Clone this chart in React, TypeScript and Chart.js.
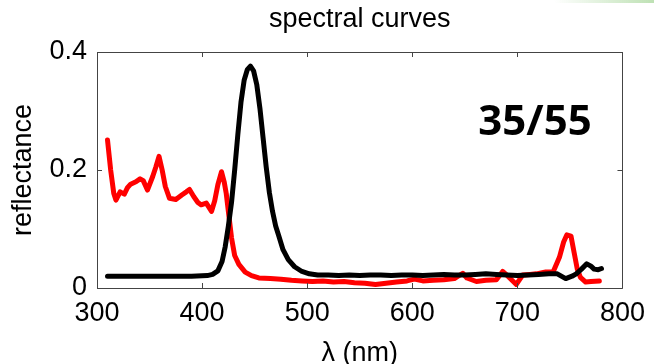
import React, { useEffect, useRef } from "react";
import { Chart, registerables } from "chart.js";

Chart.register(...registerables);

// ---- data ----
const chartTitle = "spectral curves";
const xAxisTitle = "λ (nm)";
const yAxisTitle = "reflectance";
const annotationText = "35/55";

const xTickValues = [300, 400, 500, 600, 700, 800];
const xTickLabels = ["300", "400", "500", "600", "700", "800"];
const yTickValues = [0, 0.2, 0.4];
const yTickLabels = ["0", "0.2", "0.4"];

const blackWavelengths = [
  310, 330, 350, 370, 390, 405, 410, 415, 419, 422, 425, 428, 431, 434, 437, 440, 443, 446, 449, 452,
  455, 458, 461, 464, 467, 470, 473, 477, 482, 488, 495, 502, 510, 520, 530, 540, 550, 560, 570, 580,
  590, 600, 610, 620, 630, 640, 650, 660, 670, 680, 690, 700, 710, 720, 730, 738, 746, 752, 756, 761,
  766, 770, 773, 777, 780,
];
const blackValues = [
  0.02, 0.02, 0.02, 0.02, 0.02, 0.021, 0.023, 0.029, 0.045, 0.07, 0.105, 0.145, 0.2, 0.26, 0.315, 0.352, 0.37, 0.376, 0.368, 0.345,
  0.305, 0.255, 0.205, 0.162, 0.13, 0.105, 0.088, 0.065, 0.048, 0.036, 0.028, 0.024, 0.022, 0.022, 0.021, 0.022, 0.021, 0.022, 0.022, 0.021,
  0.022, 0.022, 0.021, 0.022, 0.023, 0.022, 0.022, 0.023, 0.024, 0.023, 0.022, 0.021, 0.022, 0.023, 0.024, 0.024, 0.016, 0.02, 0.024, 0.032,
  0.041, 0.037, 0.032, 0.031, 0.033,
];

const redWavelengths = [
  310, 313, 316, 318, 322, 326, 329, 332, 337, 341, 344, 348, 353, 356, 359, 362, 365, 369, 375, 381,
  385, 388, 392, 396, 399, 404, 409, 412, 415, 418.5, 421, 423, 426, 428, 431, 435, 441, 447, 454, 465,
  475, 485, 495, 505, 515, 525, 535, 545, 555, 565, 575, 585, 595, 602, 610, 620, 630, 640, 648, 652,
  661, 670, 680, 686, 691, 699, 705, 712, 718, 727, 734, 740, 744, 747, 751, 754, 757, 760, 765, 770,
  778,
];
const redValues = [
  0.251, 0.2, 0.16, 0.149, 0.163, 0.159, 0.17, 0.176, 0.18, 0.185, 0.182, 0.166, 0.189, 0.205, 0.223, 0.2, 0.172, 0.152, 0.15, 0.158,
  0.163, 0.167, 0.155, 0.145, 0.141, 0.144, 0.13, 0.148, 0.175, 0.197, 0.18, 0.16, 0.115, 0.085, 0.055, 0.04, 0.027, 0.021, 0.017, 0.016,
  0.015, 0.013, 0.012, 0.011, 0.012, 0.01, 0.011, 0.009, 0.008, 0.006, 0.008, 0.01, 0.012, 0.015, 0.012, 0.013, 0.014, 0.016, 0.025, 0.017,
  0.011, 0.013, 0.014, 0.028, 0.02, 0.006, 0.022, 0.023, 0.024, 0.027, 0.027, 0.052, 0.078, 0.09, 0.088, 0.06, 0.032, 0.018, 0.01, 0.011,
  0.012,
];

const FONT = "'Liberation Sans', Arial, Helvetica, sans-serif";

const boxPlugin = {
  id: "matlabBox",
  afterDraw(chart: any) {
    const { ctx, chartArea, scales } = chart;
    const { left, right, top, bottom } = chartArea;
    ctx.save();
    ctx.strokeStyle = "#444444";
    ctx.lineWidth = 1;
    ctx.beginPath();
    ctx.rect(Math.round(left) + 0.5, Math.round(top) + 0.5, Math.round(right - left), Math.round(bottom - top));
    ctx.stroke();
    const tl = 5;
    ctx.beginPath();
    xTickValues.forEach((v) => {
      const px = Math.round(scales.x.getPixelForValue(v)) + 0.5;
      ctx.moveTo(px, top);
      ctx.lineTo(px, top + tl);
      ctx.moveTo(px, bottom);
      ctx.lineTo(px, bottom - tl);
    });
    yTickValues.forEach((v) => {
      const py = Math.round(scales.y.getPixelForValue(v)) + 0.5;
      ctx.moveTo(left, py);
      ctx.lineTo(left + tl, py);
      ctx.moveTo(right, py);
      ctx.lineTo(right - tl, py);
    });
    ctx.stroke();

    ctx.fillStyle = "#000";
    ctx.font = "bold 42px 'Open Sans', 'Noto Sans', sans-serif";
    ctx.textAlign = "center";
    ctx.textBaseline = "alphabetic";
    ctx.fillText(annotationText, 535, 135);
    ctx.restore();
  },
};

export default function App() {
  const ref = useRef<HTMLCanvasElement>(null);
  useEffect(() => {
    if (!ref.current) return;
    const chart = new Chart(ref.current, {
      type: "line",
      data: {
        datasets: [
          {
            label: "black",
            data: blackWavelengths.map((x, i) => ({ x, y: blackValues[i] })),
            borderColor: "#000000",
            borderWidth: 5,
            pointRadius: 0,
            tension: 0,
            fill: false,
            borderJoinStyle: "round",
            borderCapStyle: "round",
          },
          {
            label: "red",
            data: redWavelengths.map((x, i) => ({ x, y: redValues[i] })),
            borderColor: "#ff0000",
            borderWidth: 5,
            pointRadius: 0,
            tension: 0,
            fill: false,
            borderJoinStyle: "round",
            borderCapStyle: "round",
          },
        ],
      },
      options: {
        responsive: false,
        animation: false,
        devicePixelRatio: 1,
        layout: { padding: { left: 0, right: 27, top: 0, bottom: 0 } },
        plugins: {
          legend: { display: false },
          tooltip: { enabled: false },
          title: {
            display: true,
            text: chartTitle,
            color: "#000",
            fullSize: false,
            font: { family: FONT, size: 27, weight: "normal", lineHeight: 1.2 },
            padding: { top: 3.2, bottom: 16.4 },
          },
        },
        scales: {
          x: {
            type: "linear",
            min: 300,
            max: 800,
            afterFit: (s: any) => {
              s.height = 76;
            },
            afterBuildTicks: (s: any) => {
              s.ticks = xTickValues.map((v) => ({ value: v }));
            },
            ticks: {
              color: "#000",
              font: { family: FONT, size: 27 },
              padding: 9,
              maxRotation: 0,
              autoSkip: false,
              callback: (v: any) => {
                const i = xTickValues.indexOf(Number(v));
                return i >= 0 ? xTickLabels[i] : "";
              },
            },
            grid: { display: false, drawTicks: false },
            border: { display: false },
            title: {
              display: true,
              text: xAxisTitle,
              color: "#000",
              font: { family: FONT, size: 27, lineHeight: 0.8 },
              padding: { top: 0, bottom: 0 },
            },
          },
          y: {
            type: "linear",
            min: 0,
            max: 0.4,
            afterFit: (s: any) => {
              s.width = 97;
            },
            afterBuildTicks: (s: any) => {
              s.ticks = yTickValues.map((v) => ({ value: v }));
            },
            ticks: {
              color: "#000",
              font: { family: FONT, size: 27 },
              padding: 10,
              callback: (v: any) => {
                const i = yTickValues.findIndex((t) => Math.abs(t - Number(v)) < 1e-9);
                return i >= 0 ? yTickLabels[i] : "";
              },
            },
            grid: { display: false, drawTicks: false },
            border: { display: false },
            title: {
              display: true,
              text: yAxisTitle,
              color: "#000",
              font: { family: FONT, size: 27, lineHeight: 1.2 },
              padding: { top: 7, bottom: 0 },
            },
          },
        },
      },
      plugins: [boxPlugin],
    } as any);
    if ((document as any).fonts && (document as any).fonts.ready) {
      (document as any).fonts.ready.then(() => chart.update());
    }
    return () => chart.destroy();
  }, []);

  return (
    <div style={{ position: "absolute", left: 0, top: 0, width: 654, height: 364, background: "#fff" }}>
      <div
        style={{
          position: "absolute",
          right: 0,
          top: 0,
          width: 100,
          height: 3,
          background: "linear-gradient(to right, rgba(200,230,190,0), rgba(190,225,180,1))",
        }}
      />
      <canvas ref={ref} width={654} height={364} style={{ display: "block" }} />
    </div>
  );
}
